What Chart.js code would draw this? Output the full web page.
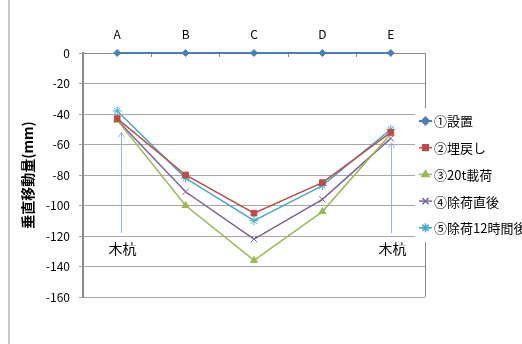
<!DOCTYPE html>
<html><head><meta charset="utf-8">
<script src="https://cdn.jsdelivr.net/npm/chart.js@4"></script>
<style>html,body{margin:0;padding:0;background:#fff;overflow:hidden}#wrap{position:relative;width:522px;height:344px}</style>
</head><body><div id="wrap"><canvas id="c" width="522" height="344"></canvas></div>
<script>
const categories = ['A', 'B', 'C', 'D', 'E'];
const seriesNames = ['①設置', '②埋戻し', '③20t載荷', '④除荷直後', '⑤除荷12時間後'];
const s1 = [0, 0, 0, 0, 0];
const s2 = [-43, -80, -105, -85, -52];
const s3 = [-44, -100, -136, -104, -53];
const s4 = [-44, -91, -122, -96, -56];
const s5 = [-38, -82, -110, -87, -50];
const yMin = -160, yMax = 0, yStep = 20;
const yTitle = '垂直移動量(mm)';
const pileLabel = '木杭';
const pileIndex = [0.06, 4];
const pileFrom = [-118, -118];
const pileTo = [-52, -59];

const colors = ['#4A7EBB', '#BE4B48', '#98B954', '#7D60A0', '#46AAC5'];
const styles = ['rectRot', 'rect', 'triangle', 'crossRot', 'star'];
const radii = [3.5, 4, 4, 4.5, 4.5];
const seriesData = [s1, s2, s3, s4, s5];
const FONT = '"Noto Sans CJK JP", "Noto Sans", sans-serif';
Chart.defaults.font.family = FONT;
Chart.defaults.color = '#000';

const datasets = seriesData.map((d, i) => ({
  label: seriesNames[i], data: d,
  borderColor: colors[i], backgroundColor: colors[i],
  pointBackgroundColor: colors[i], pointBorderColor: colors[i],
  pointStyle: styles[i], pointRadius: radii[i], pointBorderWidth: 1,
  borderWidth: i === 0 ? 2 : 1.5, tension: 0, clip: false
}));

function drawMarker(ctx, style, r, x, y) {
  if (Chart.helpers && Chart.helpers.drawPoint) {
    Chart.helpers.drawPoint(ctx, {pointStyle: style, radius: r, rotation: 0, borderWidth: 1}, x, y);
  }
}

const decor = {
  id: 'decor',
  beforeDraw(chart) {
    const ctx = chart.ctx;
    ctx.save();
    ctx.fillStyle = '#fff'; ctx.fillRect(0, 0, chart.width, chart.height);
    ctx.strokeStyle = '#c8c8c8'; ctx.lineWidth = 2;
    ctx.beginPath(); ctx.moveTo(9, 0); ctx.lineTo(9, chart.height); ctx.stroke();
    ctx.restore();
  },
  beforeDatasetsDraw(chart) {
    const {ctx, chartArea: a} = chart;
    ctx.save();
    ctx.strokeStyle = '#8c8c8c'; ctx.lineWidth = 1;
    const rx = Math.round(a.right) + 0.5;
    ctx.beginPath(); ctx.moveTo(rx, a.top); ctx.lineTo(rx, a.bottom); ctx.stroke();
    ctx.restore();
  },
  afterDatasetsDraw(chart) {
    const {ctx, scales: {x, y}} = chart;
    ctx.save();
    pileIndex.forEach((ci, k) => {
      const px = Math.round(x.getPixelForValue(ci)) + 0.5;
      const y1 = y.getPixelForValue(pileFrom[k]);
      const y2 = y.getPixelForValue(pileTo[k]);
      ctx.strokeStyle = '#95B3D7'; ctx.lineWidth = 1;
      ctx.beginPath(); ctx.moveTo(px, y1); ctx.lineTo(px, y2); ctx.stroke();
      ctx.beginPath(); ctx.moveTo(px - 3, y2 + 5); ctx.lineTo(px, y2); ctx.lineTo(px + 3, y2 + 5); ctx.stroke();
      ctx.fillStyle = '#000'; ctx.font = '14px ' + FONT;
      ctx.textAlign = 'center'; ctx.textBaseline = 'middle';
      ctx.fillText(pileLabel, px + 1, y1 + 16);
    });
    ctx.fillStyle = '#fff';
    ctx.fillRect(415, 108, 107, 134);
    seriesNames.forEach((name, i) => {
      const ly = 121 + i * 26.7;
      ctx.strokeStyle = colors[i]; ctx.fillStyle = colors[i]; ctx.lineWidth = i === 0 ? 2 : 1.5;
      ctx.beginPath(); ctx.moveTo(419, ly); ctx.lineTo(432, ly); ctx.stroke();
      drawMarker(ctx, styles[i], radii[i], 425.5, ly);
      ctx.fillStyle = '#000'; ctx.font = '13px ' + FONT;
      ctx.textAlign = 'left'; ctx.textBaseline = 'middle';
      ctx.fillText(name, 434, ly + 0.5);
    });
    ctx.restore();
  }
};

new Chart(document.getElementById('c'), {
  type: 'line',
  data: {labels: categories, datasets},
  options: {
    responsive: false, animation: false, devicePixelRatio: 1,
    layout: {padding: {left: 0, right: 97, top: 0, bottom: 47}},
    plugins: {legend: {display: false}, tooltip: {enabled: false}},
    scales: {
      x: {
        type: 'category', position: 'top', offset: true,
        grid: {offset: true, drawOnChartArea: false, drawTicks: true, tickLength: -4, color: '#8c8c8c'},
        border: {color: '#8c8c8c', width: 1},
        ticks: {color: '#000', font: {size: 12}, padding: 15},
        afterFit: s => { s.height = 53; }
      },
      y: {
        min: yMin, max: yMax,
        ticks: {stepSize: yStep, color: '#000', font: {size: 12}, padding: 9},
        grid: {color: '#a6a6a6', tickLength: 4},
        border: {color: '#8c8c8c', width: 2},
        title: {display: true, text: yTitle, color: '#000', font: {size: 14, weight: 'bold'}, padding: {top: 19, bottom: 0}},
        afterFit: s => { s.width = 83; }
      }
    }
  },
  plugins: [decor]
});
</script></body></html>
